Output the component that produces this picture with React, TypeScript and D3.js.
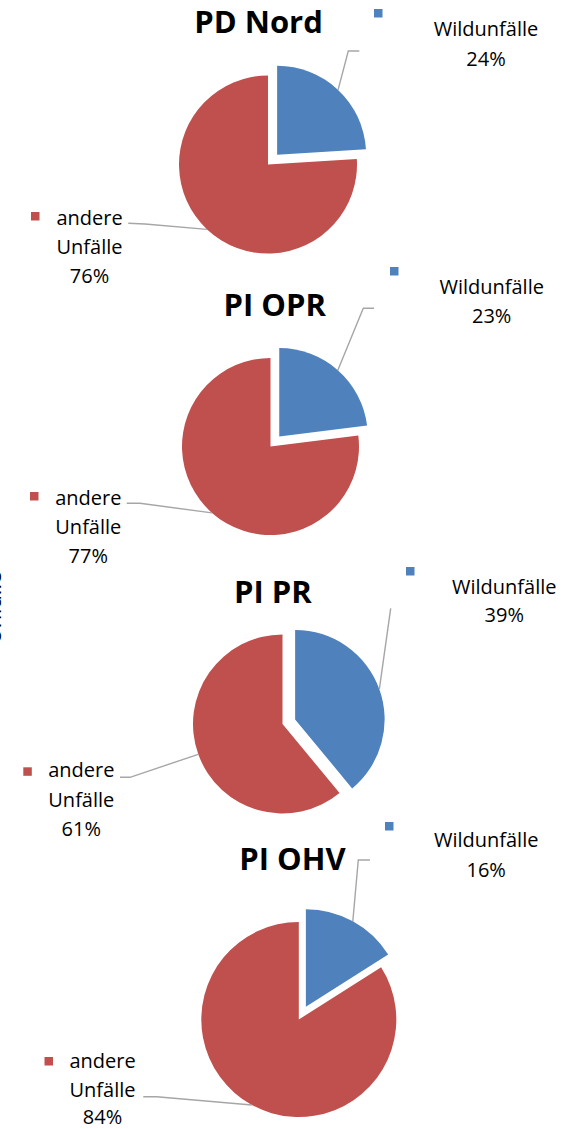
import React from 'react';
import * as d3 from 'd3';

const titles = ['PD Nord', 'PI OPR', 'PI PR', 'PI OHV'];
const categories = ['Wildunfälle', 'andere Unfälle'];
const wildPct = [24, 23, 39, 16];
const otherPct = [76, 77, 61, 84];
const axisTitle = 'Unfälle';

const COLORS = ['#4F81BD', '#C0504D'];
const LEADER = '#A6A6A6';
const FONT = "'Open Sans', 'Noto Sans', sans-serif";

type Pt = [number, number];
interface Layout {
  cx: number; cy: number; r: number;
  title: Pt;
  wild: { x: number; ys: number[]; marker: Pt; leader: Pt[] };
  other: { x: number; ys: number[]; marker: Pt; leader: Pt[] };
}

const layouts: Layout[] = [
  {
    cx: 268, cy: 164.5, r: 89, title: [258.5, 33.3],
    wild: { x: 486, ys: [36, 66], marker: [374, 9], leader: [[348.3, 51], [359.3, 51]] },
    other: { x: 89.5, ys: [225, 254.3, 282.7], marker: [31, 212], leader: [[145, 224], [128.3, 223.3]] },
  },
  {
    cx: 270.5, cy: 446.5, r: 88.5, title: [274.7, 316],
    wild: { x: 491.7, ys: [294.3, 323.3], marker: [390, 267], leader: [[363.3, 308.3], [374, 308.3]] },
    other: { x: 88.3, ys: [505, 534, 563.3], marker: [30, 492], leader: [[140, 503.3], [126.7, 503.3]] },
  },
  {
    cx: 282.5, cy: 724, r: 89.5, title: [272.8, 603.3],
    wild: { x: 504.3, ys: [594, 622.3], marker: [406, 567], leader: [[390.7, 608.3]] },
    other: { x: 81.3, ys: [777.3, 806.7, 836], marker: [23.3, 767.3], leader: [[130, 777.3], [120, 777.3]] },
  },
  {
    cx: 298.8, cy: 1019.5, r: 97.5, title: [292.5, 870],
    wild: { x: 486.2, ys: [846.7, 876.7], marker: [385, 822], leader: [[358.3, 860], [370, 860]] },
    other: { x: 102.5, ys: [1067.7, 1096.7, 1124], marker: [44.5, 1057], leader: [[156.7, 1096.7], [143.3, 1096.7]] },
  },
];

const pieGen = d3.pie<number>().sort(null).value((d) => d);

function PieChart({ idx }: { idx: number }) {
  const L = layouts[idx];
  const values = [wildPct[idx], otherPct[idx]];
  const arcs = pieGen(values);
  const arcGen = d3.arc<d3.PieArcDatum<number>>().innerRadius(0).outerRadius(L.r);
  const explode = L.r * 0.15;
  const line = d3.line<Pt>();

  return (
    <g>
      {arcs.map((a, i) => {
        const mid = (a.startAngle + a.endAngle) / 2;
        const off = i === 0 ? explode : 0;
        const ox = L.cx + Math.sin(mid) * off;
        const oy = L.cy - Math.cos(mid) * off;
        return (
          <path key={i} d={arcGen(a) || ''} transform={`translate(${ox},${oy})`} fill={COLORS[i]} />
        );
      })}
      {arcs.map((a, i) => {
        const mid = (a.startAngle + a.endAngle) / 2;
        const off = i === 0 ? explode : 0;
        const sx = L.cx + Math.sin(mid) * (off + L.r);
        const sy = L.cy - Math.cos(mid) * (off + L.r);
        const lab = i === 0 ? L.wild : L.other;
        const pts: Pt[] = [[sx, sy], ...lab.leader];
        return <path key={'l' + i} d={line(pts) || ''} fill="none" stroke={LEADER} strokeWidth={1.4} />;
      })}
      <text x={L.title[0]} y={L.title[1]} textAnchor="middle" fontFamily={FONT} fontWeight={700} fontSize={31} fill="#000">
        {titles[idx]}
      </text>
      {[0, 1].map((i) => {
        const lab = i === 0 ? L.wild : L.other;
        const lines = i === 0 ? [categories[0], `${values[0]}%`] : [...categories[1].split(' '), `${values[1]}%`];
        return (
          <g key={'t' + i}>
            <rect x={lab.marker[0]} y={lab.marker[1]} width={8.5} height={8.5} fill={COLORS[i]} />
            {lines.map((s, k) => (
              <text key={k} x={lab.x} y={lab.ys[k]} textAnchor="middle" fontFamily={FONT} fontSize={20} fill="#000">
                {s}
              </text>
            ))}
          </g>
        );
      })}
    </g>
  );
}

export default function App() {
  return (
    <svg width={572} height={1129} style={{ position: 'absolute', left: 0, top: 0, background: '#fff' }}>
      <rect x={0} y={0} width={572} height={1129} fill="#fff" />
      <text transform="translate(1,608) rotate(-90)" textAnchor="middle" fontFamily={FONT} fontSize={22} fill="#000">
        {axisTitle}
      </text>
      {titles.map((_, i) => (
        <PieChart key={i} idx={i} />
      ))}
    </svg>
  );
}
